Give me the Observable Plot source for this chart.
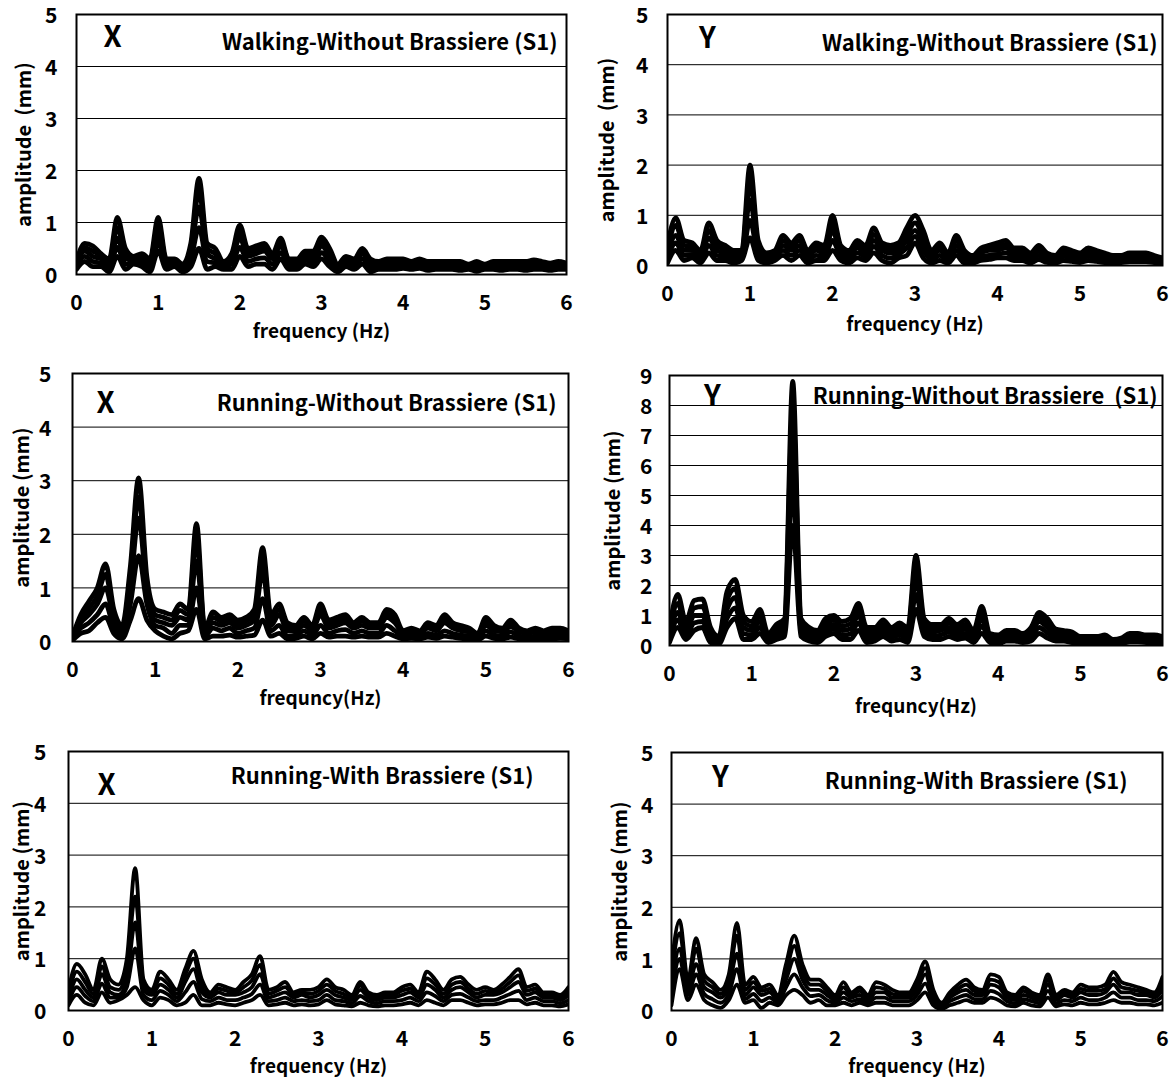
<!DOCTYPE html>
<html><head><meta charset="utf-8">
<script src="https://cdn.jsdelivr.net/npm/d3@7"></script>
<script src="https://cdn.jsdelivr.net/npm/@observablehq/plot@0.6"></script>
<style>
body{margin:0;background:#fff}
#wrap{position:relative;width:1173px;height:1079px;background:#fff;overflow:hidden}
#wrap > div{position:absolute}
</style></head><body><div id="wrap"></div>
<script>
// ---------- data ----------
const freq = [0,0.1,0.2,0.3,0.4,0.5,0.6,0.7,0.8,0.9,
1.0,1.1,1.2,1.3,1.4,1.5,1.6,1.7,1.8,1.9,
2.0,2.1,2.2,2.3,2.4,2.5,2.6,2.7,2.8,2.9,
3.0,3.1,3.2,3.3,3.4,3.5,3.6,3.7,3.8,3.9,
4.0,4.1,4.2,4.3,4.4,4.5,4.6,4.7,4.8,4.9,
5.0,5.1,5.2,5.3,5.4,5.5,5.6,5.7,5.8,5.9,6.0];
const xTicks = [0,1,2,3,4,5,6];
const yTicks5 = [0,1,2,3,4,5];
const yTicks9 = [0,1,2,3,4,5,6,7,8,9];

// Walking - Without Brassiere, X
const walkX_hi = [0.25,0.6,0.55,0.4,0.3,1.1,0.5,0.35,0.4,0.3,
1.1,0.3,0.3,0.2,0.6,1.85,0.6,0.5,0.25,0.4,
0.95,0.5,0.55,0.6,0.4,0.7,0.3,0.3,0.45,0.45,
0.72,0.5,0.2,0.35,0.3,0.5,0.3,0.25,0.3,0.3,
0.3,0.25,0.3,0.25,0.25,0.25,0.25,0.25,0.2,0.25,
0.2,0.25,0.25,0.25,0.25,0.25,0.28,0.25,0.22,0.25,0.22];
const walkX_um = [0.22,0.52,0.45,0.36,0.25,0.9,0.4,0.32,0.33,0.25,
0.95,0.25,0.28,0.18,0.52,1.6,0.5,0.4,0.22,0.35,
0.82,0.42,0.48,0.52,0.35,0.62,0.28,0.25,0.4,0.38,
0.63,0.42,0.18,0.3,0.25,0.45,0.25,0.2,0.25,0.25,
0.25,0.22,0.26,0.22,0.22,0.22,0.22,0.22,0.18,0.22,
0.18,0.22,0.22,0.22,0.22,0.22,0.24,0.22,0.18,0.22,0.2];
const walkX_mid = [0.2,0.45,0.35,0.3,0.2,0.7,0.3,0.3,0.25,0.2,
0.8,0.2,0.25,0.15,0.45,1.3,0.4,0.3,0.2,0.3,
0.7,0.35,0.4,0.45,0.3,0.55,0.25,0.2,0.35,0.3,
0.55,0.35,0.15,0.25,0.2,0.4,0.2,0.15,0.2,0.2,
0.2,0.2,0.22,0.18,0.2,0.18,0.2,0.18,0.15,0.2,
0.15,0.2,0.18,0.2,0.2,0.18,0.2,0.2,0.15,0.2,0.18];
const walkX_lm = [0.15,0.35,0.25,0.22,0.12,0.52,0.2,0.25,0.2,0.12,
0.62,0.15,0.2,0.1,0.3,0.9,0.25,0.22,0.15,0.2,
0.52,0.25,0.3,0.32,0.2,0.42,0.18,0.15,0.28,0.22,
0.42,0.25,0.1,0.2,0.15,0.3,0.12,0.12,0.15,0.15,
0.16,0.15,0.17,0.13,0.15,0.14,0.15,0.13,0.12,0.13,
0.12,0.15,0.13,0.15,0.15,0.13,0.15,0.15,0.12,0.15,0.14];
const walkX_lo = [0.1,0.25,0.15,0.15,0.05,0.35,0.1,0.2,0.15,0.05,
0.45,0.1,0.15,0.05,0.15,0.5,0.1,0.15,0.1,0.1,
0.35,0.15,0.2,0.2,0.1,0.3,0.1,0.1,0.2,0.15,
0.3,0.15,0.05,0.15,0.1,0.2,0.05,0.1,0.1,0.1,
0.12,0.1,0.12,0.08,0.1,0.1,0.1,0.08,0.1,0.06,
0.1,0.1,0.08,0.1,0.1,0.08,0.1,0.1,0.08,0.1,0.1];

// Walking - Without Brassiere, Y
const walkY_hi = [0.4,0.95,0.5,0.45,0.3,0.85,0.5,0.4,0.3,0.3,
2.0,0.5,0.25,0.3,0.6,0.45,0.6,0.3,0.45,0.4,
1.0,0.4,0.3,0.5,0.4,0.75,0.45,0.4,0.45,0.75,
1.0,0.7,0.3,0.45,0.25,0.6,0.3,0.2,0.35,0.4,
0.45,0.5,0.35,0.35,0.25,0.4,0.25,0.2,0.35,0.3,
0.25,0.35,0.3,0.25,0.2,0.2,0.25,0.25,0.25,0.2,0.15];
const walkY_um = [0.3,0.8,0.4,0.38,0.25,0.7,0.4,0.32,0.25,0.25,
1.65,0.4,0.2,0.25,0.5,0.38,0.5,0.25,0.38,0.32,
0.85,0.32,0.25,0.42,0.32,0.62,0.38,0.32,0.38,0.62,
0.85,0.58,0.25,0.38,0.2,0.5,0.25,0.16,0.3,0.35,
0.38,0.42,0.3,0.3,0.22,0.34,0.22,0.18,0.3,0.25,
0.22,0.3,0.25,0.22,0.18,0.18,0.22,0.22,0.22,0.18,0.14];
const walkY_mid = [0.2,0.6,0.3,0.3,0.2,0.55,0.3,0.25,0.2,0.2,
1.3,0.3,0.15,0.2,0.4,0.3,0.4,0.2,0.3,0.25,
0.7,0.25,0.2,0.35,0.25,0.5,0.3,0.25,0.3,0.5,
0.7,0.45,0.2,0.3,0.15,0.4,0.2,0.12,0.25,0.3,
0.3,0.35,0.25,0.25,0.18,0.28,0.18,0.15,0.25,0.2,
0.18,0.25,0.2,0.18,0.15,0.15,0.18,0.18,0.18,0.15,0.12];
const walkY_lm = [0.12,0.45,0.2,0.22,0.12,0.4,0.2,0.18,0.12,0.15,
0.9,0.2,0.1,0.15,0.3,0.2,0.3,0.12,0.2,0.18,
0.5,0.18,0.12,0.25,0.18,0.38,0.2,0.15,0.22,0.35,
0.58,0.3,0.12,0.2,0.1,0.3,0.12,0.08,0.18,0.2,
0.22,0.25,0.18,0.18,0.12,0.2,0.12,0.1,0.18,0.14,
0.12,0.18,0.14,0.12,0.1,0.1,0.13,0.13,0.13,0.1,0.08];
const walkY_lo = [0.05,0.3,0.1,0.15,0.05,0.25,0.1,0.1,0.05,0.1,
0.55,0.1,0.05,0.1,0.2,0.1,0.2,0.05,0.1,0.1,
0.3,0.1,0.05,0.15,0.1,0.25,0.1,0.05,0.15,0.2,
0.45,0.15,0.05,0.1,0.05,0.2,0.05,0.05,0.1,0.12,
0.15,0.15,0.1,0.1,0.05,0.12,0.06,0.05,0.1,0.08,
0.06,0.1,0.08,0.06,0.05,0.06,0.08,0.08,0.08,0.06,0.05];

// Running - Without Brassiere, X
const runX_hi = [0.1,0.5,0.75,1.0,1.45,0.6,0.3,1.4,3.05,1.2,
0.6,0.55,0.5,0.7,0.6,2.2,0.25,0.55,0.45,0.5,
0.4,0.45,0.6,1.75,0.5,0.7,0.35,0.3,0.45,0.3,
0.7,0.4,0.45,0.5,0.35,0.45,0.35,0.35,0.6,0.5,
0.2,0.25,0.2,0.35,0.3,0.5,0.35,0.3,0.25,0.15,
0.45,0.3,0.25,0.4,0.25,0.2,0.25,0.2,0.25,0.25,0.2];
const runX_um = [0.08,0.42,0.62,0.85,1.25,0.5,0.22,1.2,2.7,1.05,
0.5,0.45,0.4,0.58,0.5,1.9,0.22,0.45,0.38,0.42,
0.32,0.38,0.5,1.55,0.4,0.6,0.28,0.25,0.38,0.25,
0.6,0.32,0.38,0.42,0.3,0.38,0.3,0.3,0.52,0.42,
0.18,0.22,0.18,0.3,0.25,0.42,0.3,0.25,0.22,0.12,
0.38,0.25,0.22,0.34,0.22,0.18,0.22,0.18,0.22,0.22,0.18];
const runX_mid = [0.05,0.35,0.5,0.7,1.0,0.4,0.15,1.0,2.3,0.9,
0.4,0.35,0.3,0.45,0.4,1.5,0.2,0.35,0.3,0.35,
0.25,0.3,0.4,1.3,0.3,0.5,0.2,0.2,0.3,0.2,
0.5,0.25,0.3,0.35,0.25,0.3,0.25,0.25,0.45,0.35,
0.15,0.18,0.15,0.25,0.2,0.35,0.25,0.2,0.18,0.1,
0.3,0.2,0.18,0.28,0.18,0.15,0.18,0.15,0.18,0.18,0.15];
const runX_mid2 = [0.05,0.25,0.35,0.5,0.7,0.25,0.1,0.7,1.6,0.7,
0.3,0.25,0.15,0.3,0.3,1.0,0.1,0.25,0.2,0.25,
0.15,0.2,0.25,0.8,0.2,0.3,0.1,0.12,0.2,0.12,
0.3,0.15,0.2,0.22,0.15,0.2,0.15,0.15,0.3,0.2,
0.1,0.12,0.1,0.15,0.12,0.2,0.15,0.12,0.1,0.06,
0.2,0.12,0.1,0.18,0.1,0.08,0.1,0.1,0.1,0.12,0.1];
const runX_lo = [0.02,0.15,0.2,0.35,0.45,0.15,0.05,0.4,0.8,0.4,
0.2,0.1,0.05,0.15,0.2,0.6,0.05,0.1,0.1,0.12,
0.08,0.1,0.12,0.4,0.1,0.15,0.05,0.06,0.1,0.05,
0.15,0.08,0.1,0.1,0.08,0.1,0.08,0.08,0.15,0.1,
0.05,0.06,0.05,0.08,0.06,0.1,0.08,0.06,0.05,0.03,
0.1,0.06,0.05,0.08,0.05,0.04,0.05,0.05,0.05,0.06,0.05];

// Running - Without Brassiere, Y
const runY_hi = [0.6,1.7,0.8,1.5,1.55,0.6,0.3,1.8,2.2,1.0,
0.8,1.2,0.4,0.7,0.9,8.8,0.9,0.6,0.5,0.9,
1.0,0.8,0.9,1.4,0.6,0.6,0.85,0.6,0.75,0.6,
3.0,0.9,0.7,0.7,0.9,0.7,0.85,0.5,1.3,0.4,
0.35,0.5,0.5,0.4,0.6,1.1,0.9,0.55,0.5,0.45,
0.3,0.3,0.3,0.35,0.2,0.25,0.4,0.4,0.35,0.35,0.3];
const runY_um = [0.45,1.4,0.65,1.25,1.3,0.48,0.22,1.5,1.9,0.8,
0.65,1.0,0.32,0.58,0.75,7.8,0.75,0.5,0.4,0.75,
0.85,0.65,0.72,1.2,0.48,0.5,0.7,0.5,0.62,0.48,
2.6,0.75,0.58,0.6,0.75,0.58,0.7,0.4,1.1,0.32,
0.28,0.42,0.42,0.32,0.5,0.95,0.75,0.45,0.42,0.38,
0.25,0.25,0.25,0.3,0.16,0.2,0.35,0.34,0.3,0.3,0.25];
const runY_mid = [0.3,1.1,0.5,1.0,1.0,0.35,0.15,1.2,1.6,0.6,
0.5,0.8,0.25,0.45,0.6,6.5,0.6,0.4,0.3,0.6,
0.7,0.5,0.55,1.0,0.35,0.4,0.55,0.4,0.5,0.35,
2.2,0.6,0.45,0.5,0.6,0.45,0.55,0.3,0.9,0.25,
0.2,0.35,0.35,0.25,0.4,0.8,0.6,0.35,0.35,0.3,
0.2,0.2,0.2,0.25,0.12,0.15,0.3,0.28,0.25,0.25,0.2];
const runY_lm = [0.2,0.85,0.35,0.75,0.8,0.22,0.1,0.9,1.25,0.4,
0.35,0.6,0.18,0.32,0.45,5.3,0.45,0.28,0.2,0.45,
0.55,0.35,0.38,0.75,0.22,0.28,0.42,0.28,0.35,0.22,
1.7,0.45,0.32,0.35,0.45,0.32,0.4,0.2,0.65,0.18,
0.12,0.25,0.25,0.18,0.28,0.6,0.42,0.25,0.25,0.2,
0.14,0.14,0.14,0.18,0.08,0.1,0.2,0.2,0.18,0.18,0.14];
const runY_lo = [0.1,0.6,0.2,0.5,0.6,0.1,0.05,0.6,0.9,0.2,
0.2,0.4,0.1,0.2,0.3,4.0,0.3,0.15,0.1,0.3,
0.4,0.2,0.2,0.5,0.1,0.15,0.3,0.15,0.2,0.1,
1.2,0.3,0.2,0.2,0.3,0.2,0.25,0.1,0.4,0.1,
0.05,0.15,0.15,0.1,0.15,0.4,0.25,0.15,0.15,0.1,
0.08,0.08,0.08,0.1,0.05,0.06,0.12,0.12,0.1,0.1,0.08];

// Running - With Brassiere, X
const braX_hi = [0.4,0.9,0.7,0.4,1.0,0.6,0.5,1.0,2.75,0.6,
0.4,0.75,0.6,0.4,0.8,1.15,0.6,0.35,0.5,0.45,
0.4,0.55,0.7,1.05,0.4,0.45,0.55,0.35,0.4,0.4,
0.45,0.6,0.45,0.4,0.3,0.55,0.35,0.3,0.35,0.35,
0.45,0.5,0.35,0.75,0.6,0.4,0.6,0.65,0.5,0.4,
0.45,0.4,0.5,0.65,0.8,0.45,0.5,0.35,0.35,0.3,0.45];
const braX_um = [0.3,0.75,0.55,0.32,0.85,0.45,0.4,0.8,2.2,0.5,
0.35,0.62,0.5,0.32,0.68,1.0,0.45,0.3,0.42,0.38,
0.35,0.45,0.58,0.88,0.32,0.38,0.45,0.3,0.35,0.32,
0.38,0.5,0.38,0.32,0.25,0.48,0.3,0.25,0.3,0.3,
0.38,0.42,0.3,0.62,0.5,0.32,0.5,0.55,0.42,0.32,
0.38,0.35,0.42,0.55,0.68,0.38,0.42,0.3,0.3,0.25,0.38];
const braX_mid = [0.2,0.6,0.4,0.25,0.7,0.35,0.3,0.6,1.7,0.4,
0.3,0.5,0.4,0.25,0.55,0.8,0.35,0.25,0.35,0.3,
0.3,0.35,0.45,0.7,0.25,0.3,0.35,0.25,0.3,0.25,
0.3,0.4,0.3,0.25,0.2,0.4,0.25,0.2,0.25,0.25,
0.3,0.35,0.25,0.5,0.4,0.25,0.4,0.45,0.35,0.25,
0.3,0.3,0.35,0.45,0.55,0.3,0.35,0.25,0.25,0.2,0.3];
const braX_lm = [0.15,0.45,0.28,0.18,0.52,0.25,0.25,0.45,1.2,0.3,
0.2,0.38,0.3,0.18,0.35,0.55,0.22,0.18,0.25,0.2,
0.2,0.25,0.32,0.5,0.18,0.2,0.25,0.18,0.2,0.18,
0.2,0.3,0.2,0.18,0.14,0.28,0.18,0.14,0.18,0.18,
0.2,0.25,0.18,0.35,0.28,0.18,0.3,0.32,0.25,0.18,
0.2,0.2,0.25,0.32,0.38,0.2,0.25,0.18,0.18,0.14,0.2];
const braX_lo = [0.1,0.3,0.15,0.1,0.35,0.15,0.2,0.3,0.45,0.2,
0.1,0.25,0.2,0.1,0.15,0.3,0.1,0.1,0.15,0.12,
0.1,0.15,0.2,0.3,0.1,0.12,0.15,0.1,0.12,0.1,
0.12,0.2,0.12,0.1,0.08,0.15,0.1,0.08,0.1,0.1,
0.12,0.15,0.1,0.2,0.15,0.1,0.2,0.2,0.15,0.1,
0.12,0.12,0.15,0.2,0.2,0.12,0.15,0.1,0.1,0.08,0.12];

// Running - With Brassiere, Y
const braY_hi = [0.9,1.75,0.6,1.4,0.7,0.55,0.4,0.7,1.7,0.5,
0.65,0.45,0.5,0.3,0.9,1.45,0.9,0.6,0.6,0.45,
0.3,0.55,0.35,0.45,0.3,0.55,0.5,0.4,0.35,0.35,
0.6,0.95,0.4,0.15,0.35,0.5,0.6,0.45,0.4,0.7,
0.65,0.35,0.3,0.45,0.35,0.3,0.7,0.3,0.4,0.35,
0.5,0.45,0.45,0.5,0.75,0.55,0.5,0.45,0.4,0.35,0.65];
const braY_um = [0.7,1.5,0.5,1.2,0.58,0.45,0.32,0.58,1.45,0.4,
0.55,0.38,0.42,0.25,0.75,1.25,0.75,0.5,0.5,0.38,
0.25,0.45,0.3,0.38,0.25,0.45,0.42,0.32,0.3,0.3,
0.5,0.82,0.32,0.12,0.3,0.42,0.5,0.38,0.35,0.6,
0.55,0.3,0.25,0.38,0.3,0.25,0.6,0.25,0.35,0.3,
0.42,0.38,0.38,0.42,0.62,0.45,0.42,0.38,0.35,0.3,0.52];
const braY_mid = [0.5,1.2,0.4,0.9,0.45,0.35,0.25,0.45,1.1,0.3,
0.45,0.3,0.35,0.2,0.6,1.0,0.6,0.4,0.4,0.3,
0.2,0.35,0.25,0.3,0.2,0.35,0.35,0.25,0.25,0.25,
0.4,0.7,0.25,0.1,0.25,0.35,0.4,0.3,0.3,0.5,
0.45,0.25,0.2,0.3,0.25,0.2,0.5,0.2,0.3,0.25,
0.35,0.3,0.3,0.35,0.5,0.35,0.35,0.3,0.3,0.25,0.4];
const braY_lm = [0.3,1.0,0.3,0.7,0.32,0.22,0.15,0.32,0.8,0.22,
0.32,0.18,0.25,0.15,0.45,0.7,0.45,0.28,0.3,0.2,
0.15,0.25,0.18,0.22,0.15,0.25,0.25,0.18,0.18,0.18,
0.3,0.52,0.18,0.06,0.18,0.25,0.3,0.22,0.22,0.38,
0.32,0.18,0.14,0.22,0.18,0.14,0.38,0.14,0.2,0.18,
0.25,0.2,0.2,0.25,0.35,0.25,0.25,0.2,0.2,0.18,0.28];
const braY_lo = [0.1,0.8,0.2,0.5,0.2,0.1,0.05,0.2,0.5,0.15,
0.2,0.05,0.15,0.1,0.3,0.4,0.3,0.15,0.2,0.1,
0.1,0.15,0.1,0.15,0.1,0.15,0.15,0.1,0.1,0.1,
0.2,0.35,0.1,0.03,0.1,0.15,0.2,0.15,0.15,0.25,
0.2,0.1,0.08,0.15,0.1,0.08,0.25,0.08,0.12,0.1,
0.15,0.12,0.12,0.15,0.2,0.15,0.15,0.12,0.12,0.1,0.15];

// ---------- panel settings ----------
const panels = [
  {axis:"X", title:"Walking-Without Brassiere (S1)", xlabel:"frequency (Hz)", ylabel:"amplitude\u00a0\u00a0(mm)",
   traces:[walkX_hi,walkX_um,walkX_mid,walkX_lm,walkX_lo], yMax:5, yTicks:yTicks5, sw:4.8,
   box:{left:0,top:0,width:580,height:345}, m:{l:76,r:14,t:14,b:71},
   tDx:-9, tDy:28, tW:346, lDx:36, lDy:23, xlDy:57, ylDx:-52, yPad:19},
  {axis:"Y", title:"Walking-Without Brassiere (S1)", xlabel:"frequency (Hz)", ylabel:"amplitude\u00a0\u00a0(mm)",
   traces:[walkY_hi,walkY_um,walkY_mid,walkY_lm,walkY_lo], yMax:5, yTicks:yTicks5, sw:4.8,
   box:{left:586,top:0,width:587,height:345}, m:{l:81,r:11,t:14,b:80},
   tDx:-5, tDy:29, tW:343, lDx:40, lDy:24, xlDy:59, ylDx:-60, yPad:19},
  {axis:"X", title:"Running-Without Brassiere (S1)", xlabel:"frequncy(Hz)", ylabel:"amplitude (mm)",
   traces:[runX_hi,runX_um,runX_mid,runX_mid2,runX_lo], yMax:5, yTicks:yTicks5, sw:4.8,
   box:{left:0,top:355,width:580,height:365}, m:{l:72,r:12,t:18,b:79},
   tDx:-12, tDy:30, tW:347, lDx:33, lDy:30, xlDy:57, ylDx:-50, yPad:21},
  {axis:"Y", title:"Running-Without Brassiere\u00a0\u00a0(S1)", xlabel:"frequncy(Hz)", ylabel:"amplitude (mm)",
   traces:[runY_hi,runY_um,runY_mid,runY_lm,runY_lo], yMax:9, yTicks:yTicks9, sw:4.8,
   box:{left:586,top:355,width:587,height:365}, m:{l:83,r:11,t:20,b:75},
   tDx:-5, tDy:21, tW:356, lDx:43, lDy:21, xlDy:61, ylDx:-56, yPad:17},
  {axis:"X", title:"Running-With Brassiere (S1)", xlabel:"frequency (Hz)", ylabel:"amplitude (mm)",
   traces:[braX_hi,braX_um,braX_mid,braX_lm,braX_lo], yMax:5, yTicks:yTicks5, sw:3.8,
   box:{left:0,top:725,width:580,height:354}, m:{l:68,r:12,t:26,b:69},
   tDx:-35, tDy:25, tW:315, lDx:38, lDy:34, xlDy:56, ylDx:-46, yPad:22},
  {axis:"Y", title:"Running-With Brassiere (S1)", xlabel:"frequency (Hz)", ylabel:"amplitude (mm)",
   traces:[braY_hi,braY_um,braY_mid,braY_lm,braY_lo], yMax:5, yTicks:yTicks5, sw:3.8,
   box:{left:586,top:725,width:587,height:354}, m:{l:85,r:11,t:27,b:69},
   tDx:-35, tDy:29, tW:311, lDx:49, lDy:25, xlDy:56, ylDx:-51, yPad:18}
];

const FONT = "'Noto Sans CJK JP', 'Liberation Sans', sans-serif";
const wrap = document.getElementById("wrap");

for (const p of panels) {
  const rows = p.traces.flatMap((vals, k) => vals.map((a, i) => ({f: freq[i], a, k})));
  const svg = Plot.plot({
    width: p.box.width, height: p.box.height,
    marginLeft: p.m.l, marginRight: p.m.r, marginTop: p.m.t, marginBottom: p.m.b,
    x: {domain: [0, 6]},
    y: {domain: [0, p.yMax]},
    style: {fontFamily: FONT, fontSize: "21px", fontWeight: "bold", background: "white", color: "black", overflow: "visible"},
    marks: [
      Plot.gridY(p.yTicks, {stroke: "black", strokeOpacity: 1, strokeWidth: 1}),
      Plot.line(rows, {x: "f", y: "a", z: "k", stroke: "black", strokeWidth: p.sw, curve: "monotone-x", clip: true, strokeLinejoin: "round"}),
      Plot.frame({stroke: "black", strokeWidth: 2}),
      Plot.axisX(xTicks, {tickSize: 0, tickPadding: 21, label: null, tickFormat: d => String(d)}),
      Plot.axisY(p.yTicks, {tickSize: 0, tickPadding: p.yPad, label: null, dy: 2, tickFormat: d => String(d)}),
      Plot.text([p.title], {text: d => d, frameAnchor: "top-right", textAnchor: "end", lineAnchor: "middle", dx: p.tDx, dy: p.tDy, fontSize: 22, fontWeight: "bold", ariaLabel: "title"}),
      Plot.text([p.axis], {text: d => d, frameAnchor: "top-left", textAnchor: "middle", lineAnchor: "middle", dx: p.lDx, dy: p.lDy, fontSize: 29, fontWeight: "bold"}),
      Plot.text([p.xlabel], {text: d => d, frameAnchor: "bottom", textAnchor: "middle", lineAnchor: "middle", dy: p.xlDy, fontSize: 19, fontWeight: "bold"}),
      Plot.text([p.ylabel], {text: d => d, frameAnchor: "left", rotate: -90, textAnchor: "middle", lineAnchor: "middle", dx: p.ylDx, fontSize: 20, fontWeight: "bold"})
    ]
  });
  svg.querySelectorAll('g[aria-label="title"] text').forEach(t => {
    t.setAttribute("textLength", p.tW);
    t.setAttribute("lengthAdjust", "spacingAndGlyphs");
  });
  const div = document.createElement("div");
  div.style.left = p.box.left + "px";
  div.style.top = p.box.top + "px";
  div.appendChild(svg);
  wrap.appendChild(div);
}
</script>
</body></html>
